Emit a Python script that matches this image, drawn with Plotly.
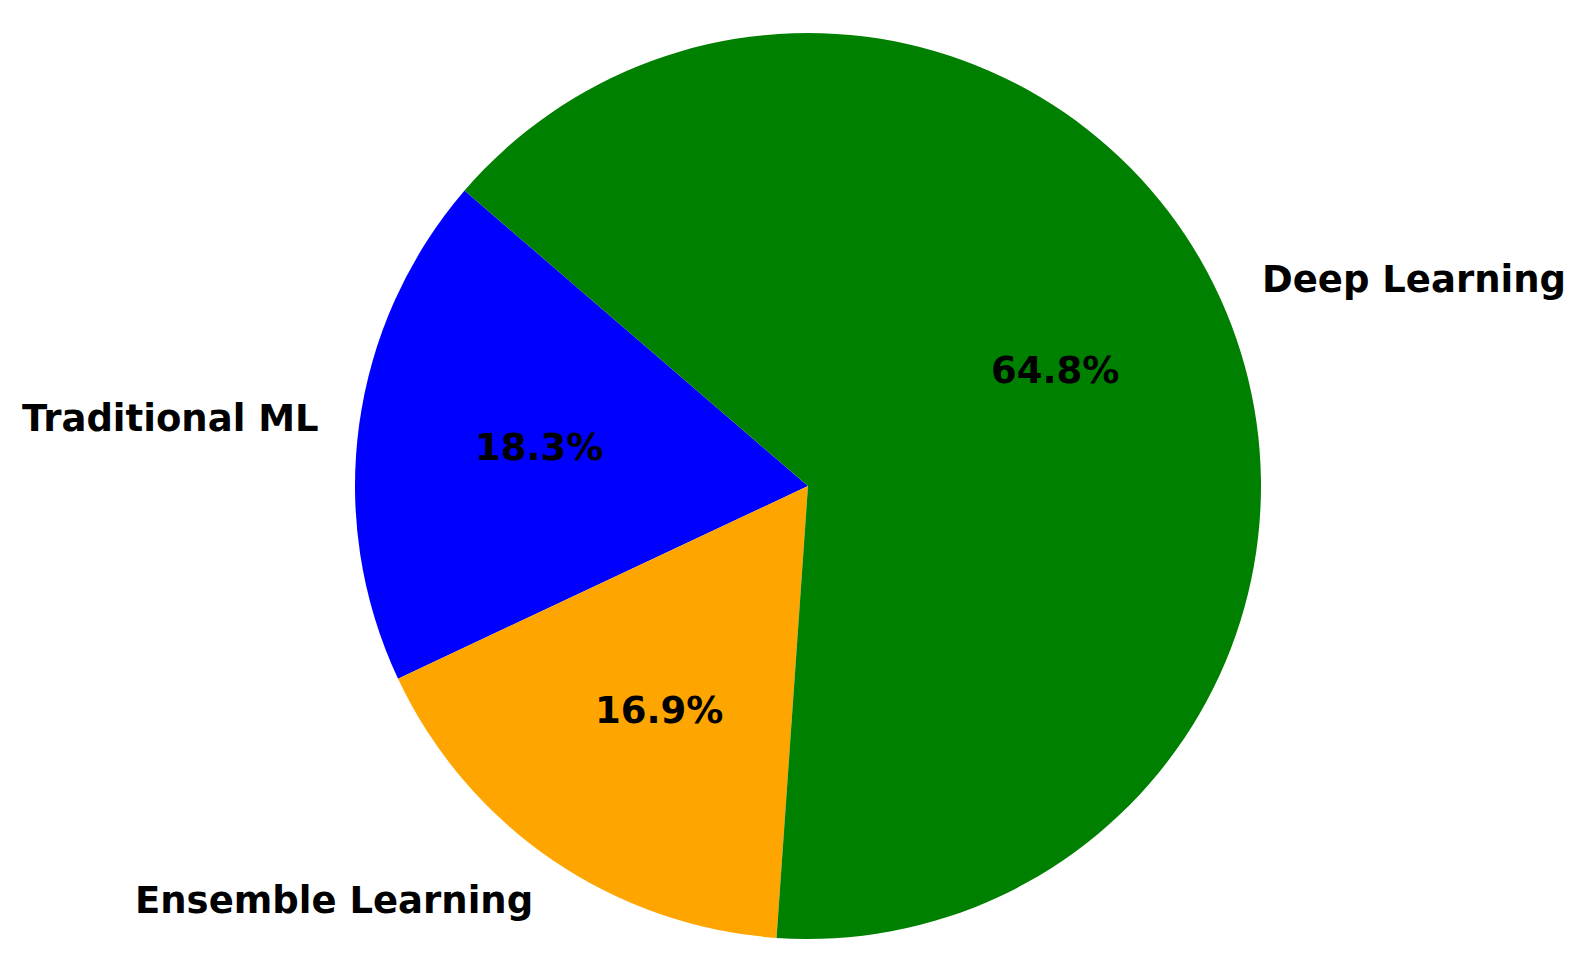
import math
import plotly.graph_objects as go

# Data
categories = ["Traditional ML", "Ensemble Learning", "Deep Learning"]
shares = [18.3, 16.9, 64.8]
colors = ["#0000ff", "#ffa500", "#008000"]
start_angle = 139.3  # degrees, counterclockwise from 3 o'clock (matplotlib convention)

W, H = 1580, 958
cx, cy, r = 808, 486, 453  # pixel center / radius
# small pixel adjustments for text placement (x right, y down)
label_nudge = {"Traditional ML": (7, 0), "Ensemble Learning": (9, 3), "Deep Learning": (-8, -15)}
pct_nudge = {"Traditional ML": (0, -2), "Ensemble Learning": (5, 0), "Deep Learning": (-4, -11)}

total = sum(shares)
first_span = shares[0] / total * 360

fig = go.Figure()
fig.add_trace(go.Pie(
    labels=categories,
    values=shares,
    marker=dict(colors=colors, line=dict(width=0)),
    sort=False,
    direction="counterclockwise",
    rotation=90 - (start_angle + first_span),
    textinfo="none",
    hoverinfo="label+percent",
    showlegend=False,
    domain=dict(x=[(cx - r) / W, (cx + r) / W], y=[(H - cy - r) / H, (H - cy + r) / H]),
))

font_label = dict(family="DejaVu Sans", size=37, color="black")
ang = start_angle
annotations = []
for cat, v in zip(categories, shares):
    span = v / total * 360
    mid = math.radians(ang + span / 2)
    ang += span
    c, s = math.cos(mid), math.sin(mid)
    nx, ny = label_nudge[cat]
    lx = (cx + 1.1 * r * c + nx) / W
    ly = (H - cy + 1.1 * r * s - ny) / H
    annotations.append(dict(
        x=lx, y=ly, xref="paper", yref="paper", showarrow=False,
        text=f"<b>{cat}</b>", font=font_label,
        xanchor="left" if c > 0 else "right", yanchor="middle",
    ))
    nx, ny = pct_nudge[cat]
    px = (cx + 0.6 * r * c + nx) / W
    py = (H - cy + 0.6 * r * s - ny) / H
    annotations.append(dict(
        x=px, y=py, xref="paper", yref="paper", showarrow=False,
        text=f"<b>{v/total*100:.1f}%</b>", font=font_label,
        xanchor="center", yanchor="middle",
    ))

fig.update_layout(
    width=W, height=H,
    margin=dict(l=0, r=0, t=0, b=0),
    paper_bgcolor="white", plot_bgcolor="white",
    annotations=annotations,
)

fig.write_html(
    "out.html",
    config={"displayModeBar": False},
    post_script="document.body.style.margin='0';document.body.style.overflow='hidden';",
)
